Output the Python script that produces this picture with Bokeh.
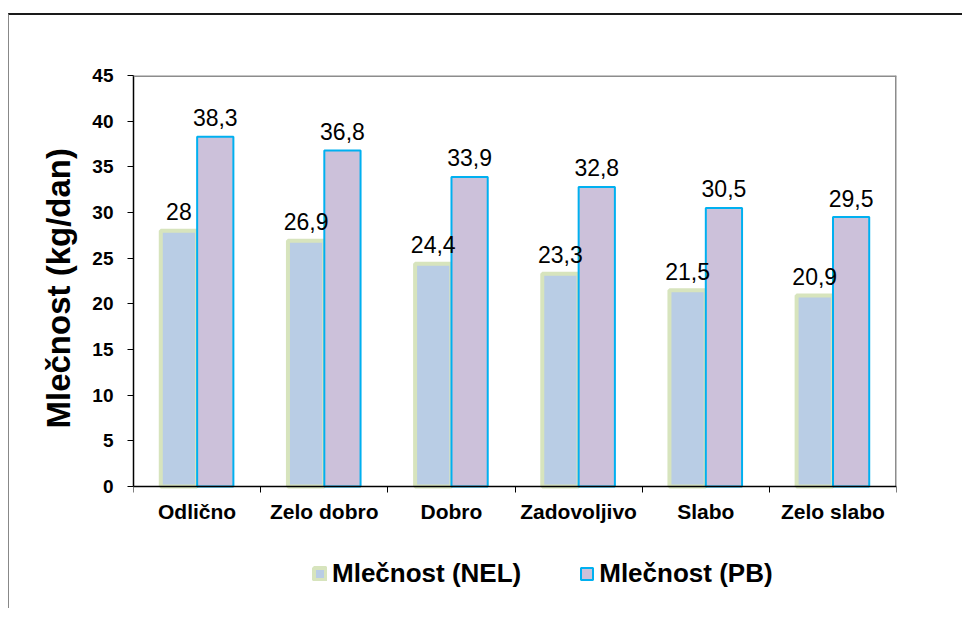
from bokeh.plotting import figure
from bokeh.models import ColumnDataSource, FixedTicker, Range1d, Legend, LegendItem, Span, Title
from bokeh.transform import dodge
from bokeh.core.properties import value
from bokeh.embed import file_html
from bokeh.resources import INLINE

categories = ["Odlično", "Zelo dobro", "Dobro", "Zadovoljivo", "Slabo", "Zelo slabo"]
nel = [28, 26.9, 24.4, 23.3, 21.5, 20.9]
pb = [38.3, 36.8, 33.9, 32.8, 30.5, 29.5]
y_ticks = [0, 5, 10, 15, 20, 25, 30, 35, 40, 45]
series_names = ["Mlečnost (NEL)", "Mlečnost (PB)"]
y_title = "Mlečnost (kg/dan)"

def fmt(v):
    s = ("%g" % v)
    return s.replace(".", ",")

xs = [i + 0.5 for i in range(len(categories))]
src = ColumnDataSource(dict(
    x=xs, nel=nel, pb=pb,
    nel_lbl=[fmt(v) for v in nel],
    pb_lbl=[fmt(v) for v in pb],
))

FONT = "Liberation Sans"
ymax = y_ticks[-1]
# frame runs from the 45 line (y=75px) down to 605px so the legend fits inside;
# 0 must sit at 486px
frame_top, zero_px, frame_bottom = 75, 486, 605
ymin = -ymax * (frame_bottom - zero_px) / (zero_px - frame_top)

p = figure(width=954, height=595, output_backend="svg", toolbar_location=None,
           x_range=Range1d(0, len(categories)), y_range=Range1d(ymin, ymax),
           min_border_left=124, min_border_right=67, min_border_top=frame_top - 15,
           min_border_bottom=610 - frame_bottom)
p.styles = {"margin-top": "13px", "margin-left": "8px",
            "border-top": "2px solid #1a1a1a", "border-left": "1px solid #888888"}

p.grid.visible = False
p.outline_line_color = None
p.background_fill_color = "white"
p.border_fill_color = "white"

# grey plot-area frame (top and right)
p.add_layout(Span(location=ymax, dimension="width", line_color="#8c8c8c", line_width=3))
p.segment(x0=[len(categories)], y0=[0], x1=[len(categories)], y1=[ymax],
          line_color="#8c8c8c", line_width=3)

bw = 0.285
off = 0.143
r1 = p.vbar(x=dodge("x", -off), top="nel", width=bw, source=src,
            fill_color="#B9CDE5", line_color="#D7E4BD", line_width=4)
r2 = p.vbar(x=dodge("x", off), top="pb", width=bw, source=src,
            fill_color="#CCC1DA", line_color="#00B0F0", line_width=2)

p.text(x=dodge("x", -off), y="nel", text="nel_lbl", source=src,
       text_align="center", text_baseline="alphabetic", y_offset=-19,
       text_font=value(FONT), text_font_size="23px", text_color="black")
p.text(x=dodge("x", off), y="pb", text="pb_lbl", source=src,
       text_align="center", text_baseline="alphabetic", y_offset=-19,
       text_font=value(FONT), text_font_size="23px", text_color="black")

# x axis at y=0: labels at centres, tick marks at category boundaries
xa = p.xaxis[0]
xa.fixed_location = 0
xa.ticker = FixedTicker(ticks=xs, minor_ticks=list(range(len(categories) + 1)))
xa.major_label_overrides = {x: c for x, c in zip(xs, categories)}
xa.major_tick_line_color = None
xa.minor_tick_line_color = "black"
xa.minor_tick_out = 6
xa.minor_tick_in = 0
xa.axis_line_color = "black"
xa.axis_line_width = 1.5
xa.major_label_text_font = FONT
xa.major_label_text_font_style = "bold"
xa.major_label_text_font_size = "21px"
xa.major_label_text_color = "black"
xa.major_label_standoff = 7

ya = p.yaxis[0]
ya.ticker = FixedTicker(ticks=y_ticks)
ya.bounds = (0, ymax)
ya.minor_tick_line_color = None
ya.major_tick_out = 6
ya.major_tick_in = 0
ya.major_tick_line_color = "black"
ya.axis_line_color = "black"
ya.axis_line_width = 1.5
ya.major_label_text_font = FONT
ya.major_label_text_font_style = "bold"
ya.major_label_text_font_size = "19px"
ya.major_label_text_color = "black"
ya.major_label_standoff = 14

# y-axis title, starting ~177px above the frame bottom (i.e. centred on 0..45)
p.add_layout(Title(text=y_title, align="left", offset=177, standoff=26,
                   text_font=FONT, text_font_style="bold", text_font_size="33px",
                   text_color="black"), "left")

legend = Legend(items=[LegendItem(label=series_names[0], renderers=[r1]),
                       LegendItem(label=series_names[1], renderers=[r2])],
                orientation="horizontal", location=(179, 16),
                glyph_width=15, glyph_height=15, label_standoff=5, spacing=58,
                padding=0, margin=0, border_line_color=None, background_fill_alpha=0,
                label_text_font=FONT, label_text_font_style="bold",
                label_text_font_size="26px", label_text_color="black")
p.add_layout(legend, "center")

open("out.html", "w").write(file_html(p, INLINE))
